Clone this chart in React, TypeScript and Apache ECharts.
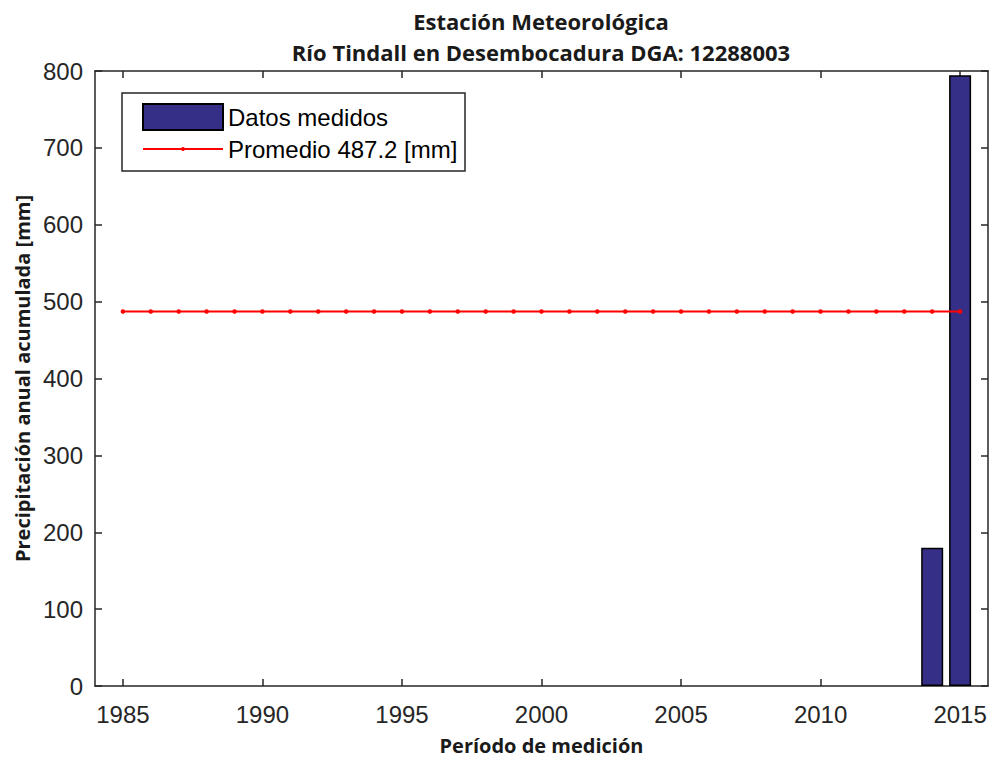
import React, { useEffect, useRef } from "react";
import * as echarts from "echarts";

const titleLines = ["Estación Meteorológica", "Río Tindall en Desembocadura DGA: 12288003"];
const barYears = [2014, 2015];
const barValues = [180.0, 794.4];
const meanYears = [1985, 1986, 1987, 1988, 1989, 1990, 1991, 1992, 1993, 1994, 1995, 1996, 1997, 1998, 1999, 2000, 2001, 2002, 2003, 2004, 2005, 2006, 2007, 2008, 2009, 2010, 2011, 2012, 2013, 2014, 2015];
const meanValue = 487.2;
const xTicks = [1985, 1990, 1995, 2000, 2005, 2010, 2015];
const barName = "Datos medidos";
const lineName = "Promedio 487.2 [mm]";

export default function App() {
  const ref = useRef<HTMLDivElement>(null);
  useEffect(() => {
    if (!ref.current) return;
    const chart = echarts.init(ref.current, null, { renderer: "svg" });
    const axisColor = "#262626";
    const tickFont = { fontFamily: "Liberation Sans, Arial, sans-serif", fontSize: 24, color: axisColor };
    const nameFont = { fontFamily: "Open Sans, sans-serif", fontWeight: "bold" as const, fontSize: 20, color: "#1a1a1a" };
    const baseX = {
      type: "value" as const,
      min: 1984,
      max: 2016,
      splitLine: { show: false },
      axisLine: { show: true, onZero: false, lineStyle: { color: axisColor, width: 1.5 } },
    };
    const baseY = {
      type: "value" as const,
      min: 0,
      max: 800,
      interval: 100,
      splitLine: { show: false },
      axisLine: { show: true, onZero: false, lineStyle: { color: axisColor, width: 1.5 } },
      axisTick: { show: true, inside: true, length: 7, lineStyle: { color: axisColor, width: 1.5 } },
    };
    const legendText = { fontFamily: "Liberation Sans, Arial, sans-serif", fontSize: 24, color: "#000" };
    chart.setOption({
      animation: false,
      backgroundColor: "#ffffff",
      title: {
        text: titleLines.join("\n"),
        left: 541,
        top: 5,
        padding: 0,
        textAlign: "center",
        textStyle: { fontFamily: "Open Sans, sans-serif", fontWeight: "bold", fontSize: 22, color: "#1a1a1a", lineHeight: 31 },
      },
      grid: { left: 95, right: 7, top: 71, bottom: 74, containLabel: false },
      xAxis: [
        {
          ...baseX,
          position: "bottom",
          name: "Período de medición",
          nameLocation: "middle",
          nameGap: 49,
          nameTextStyle: nameFont,
          axisTick: { show: true, inside: true, length: 7, customValues: xTicks, lineStyle: { color: axisColor, width: 1.5 } },
          axisLabel: { ...tickFont, margin: 16, customValues: xTicks, formatter: (v: number) => String(v) },
        },
        {
          ...baseX,
          position: "top",
          axisTick: { show: true, inside: true, length: 7, customValues: xTicks, lineStyle: { color: axisColor, width: 1.5 } },
          axisLabel: { show: false, customValues: xTicks },
        },
      ],
      yAxis: [
        {
          ...baseY,
          position: "left",
          name: "Precipitación anual acumulada [mm]",
          nameLocation: "middle",
          nameGap: 63,
          nameTextStyle: nameFont,
          axisLabel: { ...tickFont, margin: 12 },
        },
        {
          ...baseY,
          position: "right",
          axisLabel: { show: false },
        },
      ],
      legend: [
        {
          data: [{ name: barName, icon: "rect" }],
          left: 137,
          top: 98,
          orient: "vertical",
          itemWidth: 80,
          itemHeight: 26,
          textStyle: legendText,
          selectedMode: false,
        },
        {
          data: [lineName],
          left: 137,
          top: 132,
          orient: "vertical",
          itemWidth: 80,
          itemHeight: 5,
          textStyle: legendText,
          selectedMode: false,
        },
      ],
      graphic: [
        {
          type: "rect",
          z: -1,
          shape: { x: 122, y: 93, width: 343, height: 78 },
          style: { fill: "#ffffff", stroke: axisColor, lineWidth: 1.5 },
        },
      ],
      series: [
        {
          name: barName,
          type: "bar",
          xAxisIndex: 0,
          yAxisIndex: 0,
          barWidth: 22,
          data: barYears.map((y, i) => [y, barValues[i]]),
          itemStyle: { color: "#352F87", borderColor: "#000000", borderWidth: 1.5 },
        },
        {
          name: lineName,
          type: "line",
          xAxisIndex: 0,
          yAxisIndex: 0,
          data: meanYears.map((y) => [y, meanValue]),
          symbol: "circle",
          symbolSize: 4.5,
          lineStyle: { color: "#ff0000", width: 2 },
          itemStyle: { color: "#ff0000" },
          z: 3,
        },
      ],
    });
    return () => chart.dispose();
  }, []);
  return <div ref={ref} style={{ width: 995, height: 760, position: "absolute", left: 0, top: 0 }} />;
}
